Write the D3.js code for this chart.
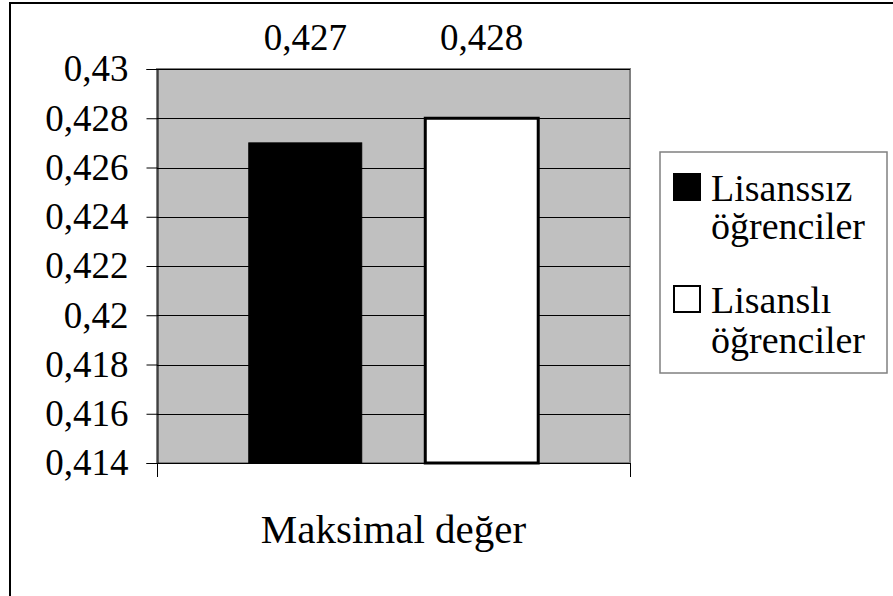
<!DOCTYPE html>
<html>
<head>
<meta charset="utf-8">
<script src="https://cdn.jsdelivr.net/npm/d3@7"></script>
<style>
  html, body { margin: 0; padding: 0; background: #fff; }
</style>
</head>
<body>
<svg id="chart" width="893" height="596"></svg>
<script>
// Chart data
const categories = ["Maksimal değer"];
const seriesNames = ["Lisanssız öğrenciler", "Lisanslı öğrenciler"];
const legendLines = [["Lisanssız", "öğrenciler"], ["Lisanslı", "öğrenciler"]];
const seriesValues = [0.427, 0.428];
const valueLabels = ["0,427", "0,428"];
const yTicks = [0.414, 0.416, 0.418, 0.42, 0.422, 0.424, 0.426, 0.428, 0.43];
const yTickLabels = ["0,414", "0,416", "0,418", "0,42", "0,422", "0,424", "0,426", "0,428", "0,43"];
const seriesFill = ["#000000", "#ffffff"];

const FONT = "Liberation Serif, Tinos, Noto Serif, DejaVu Serif, FreeSerif, Times New Roman, serif";

const svg = d3.select("#chart");

// Outer frame (continues past the right and bottom edges)
svg.append("rect")
  .attr("x", 10).attr("y", 3)
  .attr("width", 1000).attr("height", 1000)
  .attr("fill", "none").attr("stroke", "#000").attr("stroke-width", 2);

const plot = { left: 157, top: 69, right: 630, bottom: 463 };

const y = d3.scaleLinear()
  .domain([0.414, 0.43])
  .range([plot.bottom, plot.top]);

const x0 = d3.scaleBand()
  .domain(categories)
  .range([plot.left, plot.right]);

const x1 = d3.scaleBand()
  .domain(seriesNames)
  .range([0, x0.bandwidth()])
  .paddingInner(0.36)
  .paddingOuter(0.52);

// Plot area background
svg.append("rect")
  .attr("x", plot.left).attr("y", plot.top)
  .attr("width", plot.right - plot.left).attr("height", plot.bottom - plot.top)
  .attr("fill", "#c0c0c0")
  .attr("stroke", "#808080").attr("stroke-width", 2);

// Horizontal gridlines
svg.append("g")
  .selectAll("line")
  .data(yTicks.slice(1))
  .join("line")
  .attr("x1", plot.left).attr("x2", plot.right)
  .attr("y1", d => Math.round(y(d)) + 0.5).attr("y2", d => Math.round(y(d)) + 0.5)
  .attr("stroke", "#000").attr("stroke-width", 1);

// Bars
const cat = categories[0];
svg.append("g")
  .selectAll("rect")
  .data(seriesValues)
  .join("rect")
  .attr("x", (d, i) => x0(cat) + x1(seriesNames[i]))
  .attr("y", d => y(d))
  .attr("width", x1.bandwidth())
  .attr("height", d => y(0.414) - y(d))
  .attr("fill", (d, i) => seriesFill[i])
  .attr("stroke", "#000")
  .attr("stroke-width", (d, i) => i === 1 ? 3 : 1);

// Value labels above the plot
svg.append("g")
  .selectAll("text")
  .data(seriesValues)
  .join("text")
  .attr("x", (d, i) => x0(cat) + x1(seriesNames[i]) + x1.bandwidth() / 2)
  .attr("y", 50)
  .attr("text-anchor", "middle")
  .style("font-family", FONT)
  .style("font-size", "37px")
  .text((d, i) => valueLabels[i]);

// Y axis
const yAxis = d3.axisLeft(y)
  .tickValues(yTicks)
  .tickFormat((d, i) => yTickLabels[i])
  .tickSize(11)
  .tickPadding(18);
const gy = svg.append("g")
  .attr("transform", `translate(${plot.left + 0.5},0)`)
  .call(yAxis);
gy.select(".domain").attr("stroke", "#000");
gy.selectAll(".tick line").attr("stroke", "#000");
gy.selectAll(".tick text")
  .style("font-family", FONT)
  .style("font-size", "37px")
  .attr("fill", "#000");

// X axis: baseline with category boundary ticks
svg.append("line")
  .attr("x1", plot.left).attr("x2", plot.right)
  .attr("y1", plot.bottom + 0.5).attr("y2", plot.bottom + 0.5)
  .attr("stroke", "#000");
svg.append("g")
  .selectAll("line")
  .data([plot.left, plot.right])
  .join("line")
  .attr("x1", d => d + 0.5).attr("x2", d => d + 0.5)
  .attr("y1", plot.bottom).attr("y2", plot.bottom + 14)
  .attr("stroke", "#000");

// Category label
svg.append("text")
  .attr("x", x0(cat) + x0.bandwidth() / 2)
  .attr("y", 543)
  .attr("text-anchor", "middle")
  .style("font-family", FONT)
  .style("font-size", "41px")
  .text(cat);

// Legend
const legend = svg.append("g");
legend.append("rect")
  .attr("x", 660).attr("y", 152)
  .attr("width", 227).attr("height", 221)
  .attr("fill", "#fff").attr("stroke", "#808080").attr("stroke-width", 1.5);

const legendBaselines = [[201, 239], [313, 353]];
seriesNames.forEach((name, i) => {
  const base = legendBaselines[i][0];
  legend.append("rect")
    .attr("x", 674).attr("y", base - 27)
    .attr("width", 26).attr("height", 26)
    .attr("fill", seriesFill[i])
    .attr("stroke", "#000").attr("stroke-width", 2);
  legendLines[i].forEach((line, j) => {
    legend.append("text")
      .attr("x", 711)
      .attr("y", legendBaselines[i][j])
      .style("font-family", FONT)
      .style("font-size", "38px")
      .text(line);
  });
});
</script>
</body>
</html>
